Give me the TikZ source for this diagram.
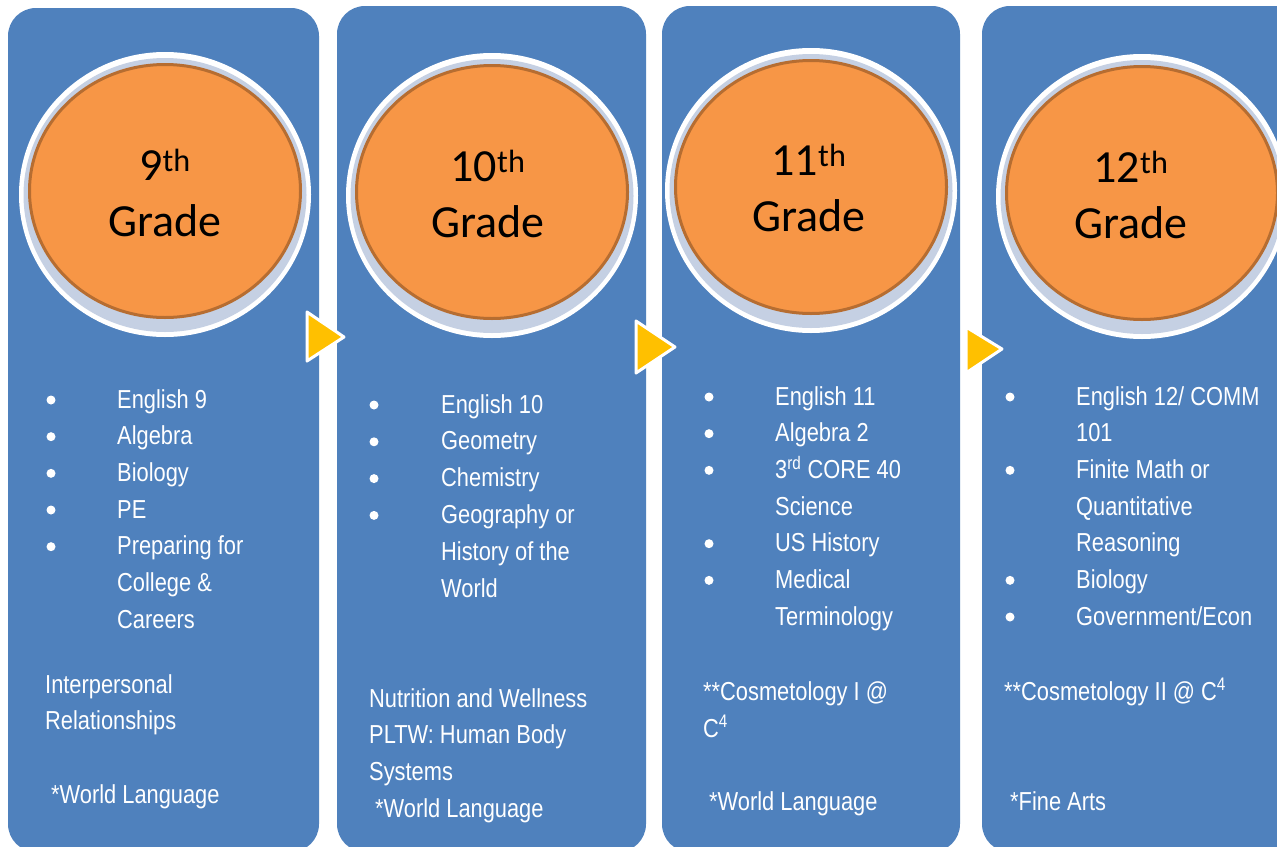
\documentclass[tikz,border=0pt]{standalone}
\usepackage{fontspec}
\setmainfont{Liberation Sans}[FakeStretch=0.84]
\newfontfamily\gradefont{Carlito}
\usetikzlibrary{positioning, shapes.geometric}
\definecolor{cblue}{RGB}{79,129,189}
\definecolor{corange}{RGB}{247,150,70}
\definecolor{cbrown}{RGB}{182,109,49}
\definecolor{cring}{RGB}{197,208,227}
\definecolor{cyellow}{RGB}{255,192,0}

\begin{document}
\begin{tikzpicture}[x=1pt, y=-1pt,
    column/.style={fill=cblue, rounded corners=28pt},
    halo/.style={ellipse, inner sep=0pt, fill=white, minimum width=292pt, minimum height=285pt},
    ring/.style={ellipse, inner sep=0pt, fill=cring, minimum width=283pt, minimum height=274pt},
    disc/.style={ellipse, inner sep=0pt, fill=corange, draw=cbrown, line width=3pt, minimum width=271pt, minimum height=253pt},
    grade/.style={align=center, inner sep=0pt, font=\gradefont\fontsize{46}{56}\selectfont},
    course/.style={anchor=base west, inner sep=0pt, text=white, font=\fontsize{26}{31}\selectfont},
    dot/.style={circle, fill=white, inner sep=0pt, minimum size=9pt},
    nexttip/.style={fill=cyellow, draw=white, line width=3pt, line join=round}]
    \useasboundingbox (0, 0) rectangle (1277, 846);
    \clip (0, 0) rectangle (1277, 846);
    \fill [white] (0, 0) rectangle (1277, 846);

    % columns
    \fill [column] (8, 8) rectangle (319, 852);
    \fill [column] (337, 6) rectangle (646, 852);
    \fill [column] (662, 6) rectangle (960, 852);
    \fill [column] (982, 6) rectangle (1320, 852);

    % grade circles
    \foreach \n/\x/\y/\tx/\ty in {9/165/191/165/193, 10/492/192/488/194, 11/811/187/809/188, 12/1142/193/1131/195} {
      \node [halo] (w\n) at (\x, \y + 3.5) {};
      \node [ring] (r\n) at (\x, \y + 4) {};
      \node [disc] (o\n) at (\x, \y) {};
      \node [grade] (g\n) at (\tx, \ty) {\n\textsuperscript{th}\\Grade};
    }

    % arrows between the columns
    \filldraw [nexttip] (307, 312) -- (307, 361) -- (344, 337) -- cycle;
    \filldraw [nexttip] (636, 321) -- (636, 373) -- (675, 347) -- cycle;
    \filldraw [nexttip] (966, 327) -- (966, 373) -- (1002, 349) -- cycle;

    % 9th grade
    \foreach \t [count=\i] in {English 9, Algebra, Biology, PE, Preparing for, College \&, Careers}
      \node [course] (a\i) at (117, 408 + 36.67*\i - 36.67) {\t};
    \foreach \i in {1,...,5}
      \node [dot] (ad\i) at (51, 400 + 36.67*\i - 36.67) {};
    \node [course] (a8) at (45, 693) {Interpersonal};
    \node [course] (a9) at (45, 729) {Relationships};
    \node [course] (a10) at (51, 803) {*World Language};

    % 10th grade
    \foreach \t [count=\i] in {English 10, Geometry, Chemistry, Geography or, History of the, World}
      \node [course] (b\i) at (441, 413 + 36.8*\i - 36.8) {\t};
    \foreach \i in {1,...,4}
      \node [dot] (bd\i) at (374, 405 + 36.8*\i - 36.8) {};
    \node [course] (b7) at (369, 707) {Nutrition and Wellness};
    \node [course] (b8) at (369, 743) {PLTW: Human Body};
    \node [course] (b9) at (369, 780) {Systems};
    \node [course] (b10) at (375, 817) {*World Language};

    % 11th grade
    \foreach \t [count=\i] in {English 11, Algebra 2, 3\textsuperscript{rd} CORE 40, Science, US History, Medical, Terminology}
      \node [course] (c\i) at (775, 405 + 36.67*\i - 36.67) {\t};
    \foreach \i in {1,2,3,5,6}
      \node [dot] (cd\i) at (709, 397 + 36.67*\i - 36.67) {};
    \node [course] (c8) at (703, 700) {**Cosmetology I @};
    \node [course] (c9) at (703, 737) {C\textsuperscript{4}};
    \node [course] (c10) at (709, 810) {*World Language};

    % 12th grade
    \foreach \t [count=\i] in {English 12/ COMM, 101, Finite Math or, Quantitative, Reasoning, Biology, Government/Econ}
      \node [course] (d\i) at (1076, 405 + 36.67*\i - 36.67) {\t};
    \foreach \i in {1,3,6,7}
      \node [dot] (dd\i) at (1010, 397 + 36.67*\i - 36.67) {};
    \node [course] (d8) at (1004, 700) {**Cosmetology II @ C\textsuperscript{4}};
    \node [course] (d9) at (1010, 810) {*Fine Arts};
  \end{tikzpicture}
\end{document}
